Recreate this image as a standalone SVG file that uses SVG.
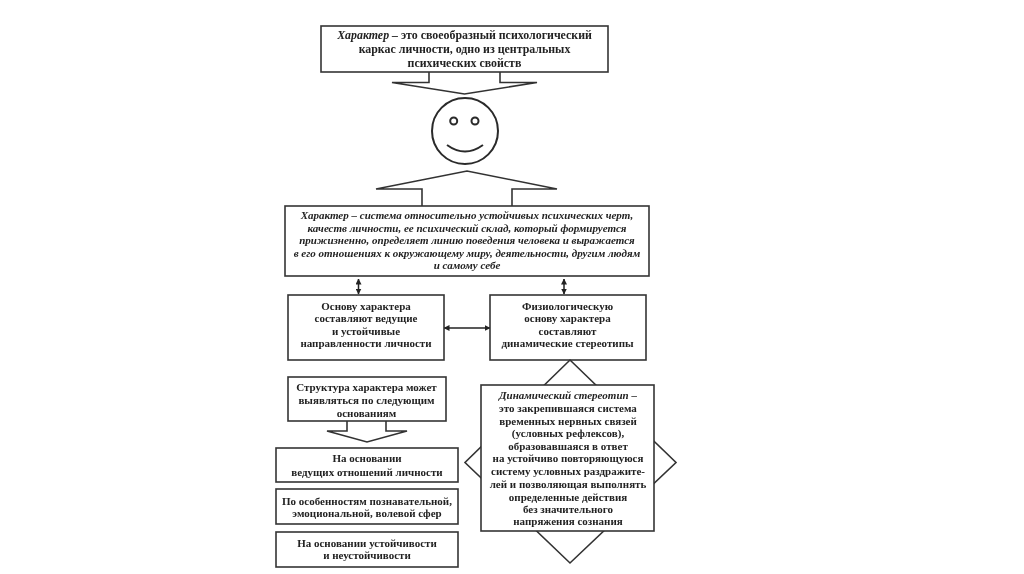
<svg xmlns="http://www.w3.org/2000/svg" width="1024" height="574" viewBox="0 0 1024 574">
<style>
.b{fill:#fff;stroke:#333;stroke-width:1.6}
.f{fill:none;stroke:#333;stroke-width:1.6}
.t{stroke-width:2;stroke:#2a2a2a}
text{font-family:"Liberation Serif","Times New Roman",serif;font-size:11px;font-weight:bold;fill:#222;text-anchor:middle}
.h{font-size:11.9px}
.i{font-style:italic}
.c{fill:none;stroke:#222;stroke-width:1.5}
</style>
<defs>
<marker id="a" viewBox="0 0 6 6" refX="5.5" refY="3" markerWidth="6" markerHeight="6" orient="auto-start-reverse" markerUnits="userSpaceOnUse"><path d="M0 0L6 3L0 6z" fill="#222"/></marker>
<filter id="soft" filterUnits="userSpaceOnUse" x="0" y="0" width="1024" height="574"><feGaussianBlur stdDeviation="0.35"/></filter>
</defs>
<rect width="1024" height="574" fill="#fff"/>
<g filter="url(#soft)">
<g id="connectors">
<path class="c" d="M358.500 279V294" marker-start="url(#a)" marker-end="url(#a)"/>
<path class="c" d="M564 279V294" marker-start="url(#a)" marker-end="url(#a)"/>
<path class="c" d="M444 328H490" marker-start="url(#a)" marker-end="url(#a)"/>
</g>
<g id="node-top">
<rect class="b" x="321" y="26" width="287" height="46"/>
<text class="h" x="464.500" y="39"><tspan class="i">Характер – </tspan>это своеобразный психологический</text>
<text class="h" x="464.500" y="53">каркас личности, одно из центральных</text>
<text class="h" x="464.500" y="67">психических свойств</text>
</g>
<g id="arrow-down-top"><path class="f" d="M429 72V82.500H392L464.500 94L537 82.500H500V72"/></g>
<g id="smiley">
<circle class="f t" cx="465" cy="131" r="33"/>
<circle class="f t" cx="453.700" cy="121" r="3.500"/>
<circle class="f t" cx="475" cy="121" r="3.500"/>
<path class="f t" d="M447 145Q465 158 483 145"/>
</g>
<g id="arrow-up"><path class="f" d="M422 206V189H376L467 171L557 189H512V206"/></g>
<g id="node-definition">
<rect class="b" x="285" y="206" width="364" height="70"/>
<text class="i" x="467" y="218.500">Характер – система относительно устойчивых психических черт,</text>
<text class="i" x="467" y="231.500">качеств личности, ее психический склад, который формируется</text>
<text class="i" x="467" y="244">прижизненно, определяет линию поведения человека и выражается</text>
<text class="i" x="467" y="256.500">в его отношениях к окружающему миру, деятельности, другим людям</text>
<text class="i" x="467" y="269">и самому себе</text>
</g>
<g id="node-basis">
<rect class="b" x="288" y="295" width="156" height="65"/>
<text x="366" y="309.500">Основу характера</text>
<text x="366" y="322">составляют ведущие</text>
<text x="366" y="335">и устойчивые</text>
<text x="366" y="347">направленности личности</text>
</g>
<g id="node-physio">
<rect class="b" x="490" y="295" width="156" height="65"/>
<text x="567.500" y="309.500">Физиологическую</text>
<text x="567.500" y="322">основу характера</text>
<text x="567.500" y="335">составляют</text>
<text x="567.500" y="347">динамические стереотипы</text>
</g>
<g id="diamond"><path class="f" d="M570 360L676 462.500L570 563L465 462.500Z"/></g>
<g id="node-stereotype">
<rect class="b" x="481" y="385" width="173" height="146"/>
<text class="i" x="568" y="398.500">Динамический стереотип –</text>
<text x="568" y="412">это закрепившаяся система</text>
<text x="568" y="424.500">временных нервных связей</text>
<text x="568" y="437">(условных рефлексов),</text>
<text x="568" y="449.500">образовавшаяся в ответ</text>
<text x="568" y="462">на устойчиво повторяющуюся</text>
<text x="568" y="475">систему условных раздражите-</text>
<text x="568" y="487.500">лей и позволяющая выполнять</text>
<text x="568" y="500.500">определенные действия</text>
<text x="568" y="513">без значительного</text>
<text x="568" y="525">напряжения сознания</text>
</g>
<g id="node-structure">
<rect class="b" x="288" y="377" width="158" height="44"/>
<text x="366.500" y="390.500">Структура характера может</text>
<text x="366.500" y="403.500">выявляться по следующим</text>
<text x="366.500" y="416.500">основаниям</text>
</g>
<g id="arrow-down-structure"><path class="f" d="M347 421V431H327L367 442L407 431H386V421"/></g>
<g id="node-a">
<rect class="b" x="276" y="448" width="182" height="34"/>
<text x="367" y="461.500">На основании</text>
<text x="367" y="475.500">ведущих отношений личности</text>
</g>
<g id="node-b">
<rect class="b" x="276" y="489" width="182" height="35"/>
<text x="367" y="504.500">По особенностям познавательной,</text>
<text x="367" y="517">эмоциональной, волевой сфер</text>
</g>
<g id="node-c">
<rect class="b" x="276" y="532" width="182" height="35"/>
<text x="367" y="546.500">На основании устойчивости</text>
<text x="367" y="559">и неустойчивости</text>
</g>
</g>
</svg>
